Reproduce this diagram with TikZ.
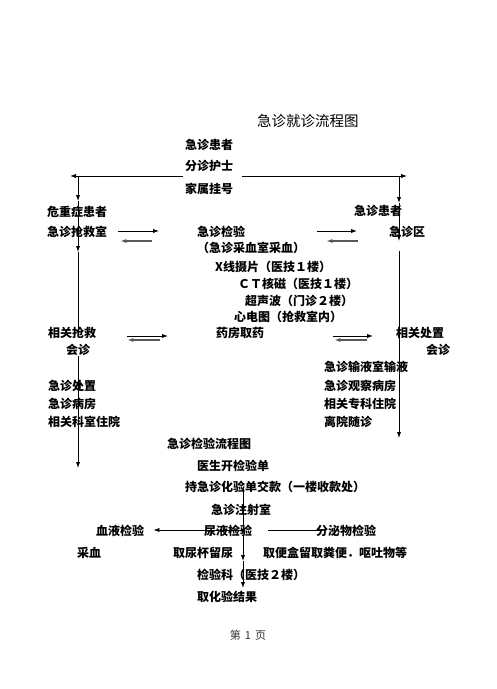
\documentclass[tikz,border=0pt]{standalone}
\usepackage{fontspec}
\usetikzlibrary{arrows.meta}
\newfontfamily\cjk{Noto Sans CJK SC}
\tikzset{
  lbl/.style={anchor=west, inner sep=0pt, font=\cjk\bfseries\fontsize{12}{14}\selectfont},
  arr/.style={line width=0.8pt, -{Latex[length=6pt,width=4.2pt]}},
  back/.style={arr, draw=gray!70!black, line width=1.3pt},
  ln/.style={line width=0.8pt}
}

\begin{document}
\begin{tikzpicture}[x=1pt,y=-1pt]

\useasboundingbox (0,0) rectangle (496,689);

\node[anchor=west, inner sep=0pt, font=\cjk\fontsize{14.5}{16}\selectfont] (title) at (257,121) {急诊就诊流程图};

\node[lbl] (pat) at (185,145) {急诊患者};
\node[lbl] (triage) at (185,166) {分诊护士};
\node[lbl] (reg) at (185,189) {家属挂号};

\node[lbl] (crit) at (47,212) {危重症患者};
\node[lbl] (resus) at (47,232) {急诊抢救室};
\node[lbl] (emPat) at (354,211) {急诊患者};
\node[lbl] (emArea) at (389,232) {急诊区};

\node[lbl] (lab) at (197,232) {急诊检验};
\node[lbl] (labsub) at (197,248) {（急诊采血室采血）};
\node[lbl] (xray) at (215,267) {X线摄片（医技１楼）};
\node[lbl] (ct) at (238,284) {ＣＴ核磁（医技１楼）};
\node[lbl] (us) at (245,301) {超声波（门诊２楼）};
\node[lbl] (ecg) at (234,317) {心电图（抢救室内）};
\node[lbl] (pharm) at (216,333) {药房取药};

\node[lbl] (consL) at (48,333) {相关抢救};
\node[lbl] (consL2) at (66,350) {会诊};
\node[lbl] (dispR) at (396,333) {相关处置};
\node[lbl] (consR) at (426,350) {会诊};

\node[lbl] (treatL) at (48,386) {急诊处置};
\node[lbl] (wardL) at (48,404) {急诊病房};
\node[lbl] (admitL) at (48,422) {相关科室住院};

\node[lbl] (infusion) at (324,367) {急诊输液室输液};
\node[lbl] (obs) at (324,386) {急诊观察病房};
\node[lbl] (spec) at (324,404) {相关专科住院};
\node[lbl] (discharge) at (324,422) {离院随诊};

\node[lbl] (labTitle) at (167,444) {急诊检验流程图};
\node[lbl] (order) at (197,466) {医生开检验单};
\node[lbl] (pay) at (185,487) {持急诊化验单交款（一楼收款处）};
\node[lbl] (inj) at (211,510) {急诊注射室};
\node[lbl] (blood) at (96,531) {血液检验};
\node[lbl] (urine) at (204,531) {尿液检验};
\node[lbl] (secr) at (316,531) {分泌物检验};
\node[lbl] (draw) at (77,553) {采血};
\node[lbl] (cup) at (173,553) {取尿杯留尿};
\node[lbl] (stool) at (263,553) {取便盒留取粪便．呕吐物等};
\node[lbl] (labDept) at (197,575) {检验科（医技２楼）};
\node[lbl] (result) at (197,597) {取化验结果};

\node[font=\cjk\fontsize{11}{13}\selectfont, text=gray!40!black] (page) at (248,635) {第\hspace{4pt}1\hspace{4pt}页};

\coordinate (hL) at (70,176);
\coordinate (hR) at (407,176);
\coordinate (lA) at (78,176);
\coordinate (lB) at (78,201);
\coordinate (lC) at (78,252);
\coordinate (lD) at (78,337);
\coordinate (lE) at (78,356);
\coordinate (lF) at (78,468);
\coordinate (rA) at (399,176);
\coordinate (rB) at (399,203);
\coordinate (rC) at (399,241);
\coordinate (rD) at (399,251);
\coordinate (rE) at (399,438);
\coordinate (bA) at (243,488);
\coordinate (bB) at (243,513);
\coordinate (bC) at (243,535);
\coordinate (bD) at (243,561);
\coordinate (bE) at (243,588);

\draw[arr] ([shift={(-2,10)}]triage.west) -- (hL);
\draw[arr] ([shift={(9,10)}]triage.east) -- (hR);

\draw[arr] (lA) -- (lB);
\draw[arr] (lB) -- (lC);
\draw[ln] (lC) -- (lD);
\draw[arr] (lE) -- (lF);

\draw[arr] (rA) -- (rB);
\draw[arr] (rB) -- (rC);
\draw[arr] (rD) -- (rE);

\draw[arr] ([shift={(11,-1)}]resus.east) -- ([shift={(-38,-1)}]lab.west);
\draw[back] ([shift={(-45,9)}]lab.west) -- ([shift={(13,9)}]resus.east);
\draw[arr] ([shift={(72,-1)}]lab.east) -- ([shift={(-32,-1)}]emArea.west);
\draw[back] ([shift={(-31,9)}]emArea.west) -- ([shift={(81,9)}]lab.east);

\draw[arr] ([shift={(31,3)}]consL.east) -- ([shift={(-48,3)}]pharm.west);
\draw[back] ([shift={(-56,7)}]pharm.west) -- ([shift={(31,7)}]consL.east);
\draw[arr] ([shift={(69,3)}]pharm.east) -- ([shift={(-23,3)}]dispR.west);
\draw[back] ([shift={(-29,7)}]dispR.west) -- ([shift={(70,7)}]pharm.east);

\draw[arr] (bA) -- (bB);
\draw[arr] (bB) -- (bC);
\draw[arr] (bC) -- (bD);
\draw[arr] (bD) -- (bE);
\draw[arr] ([shift={(-9,-1)}]urine.east) -- ([shift={(9,-1)}]blood.east);
\draw[ln] ([shift={(16,-1)}]urine.east) -- ([shift={(5,-1)}]secr.west);

\end{tikzpicture}
\end{document}
